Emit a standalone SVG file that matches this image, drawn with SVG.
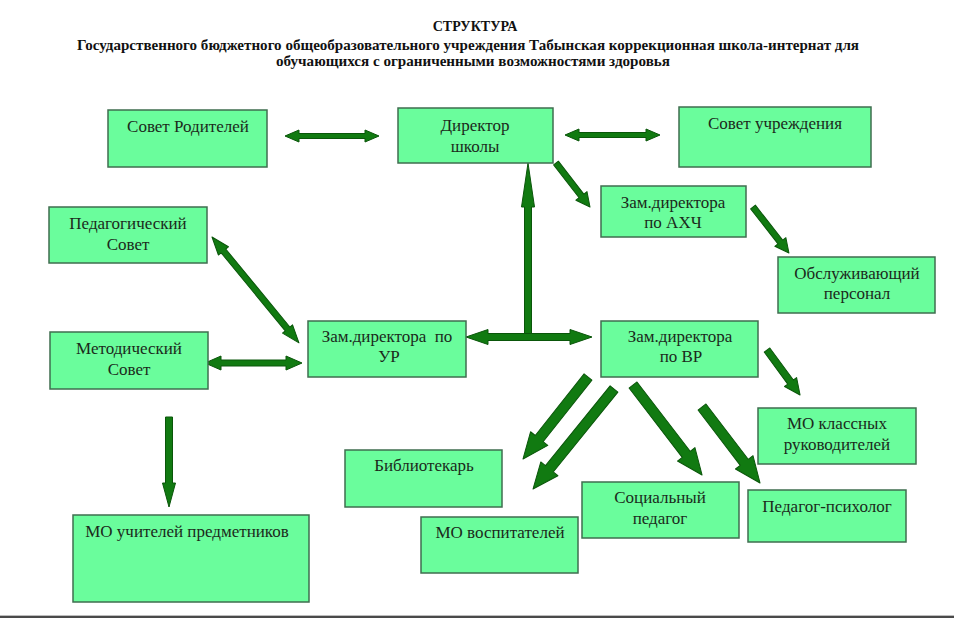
<svg xmlns="http://www.w3.org/2000/svg" width="954" height="618" viewBox="0 0 954 618">
<style>
.box{fill:#6afd9c;stroke:#3f6e4f;stroke-width:1.5}
.t{font-family:"Liberation Serif","Times New Roman",serif;font-size:17px;fill:#1b2a1b;text-anchor:middle}
.h{font-family:"Liberation Serif","Times New Roman",serif;font-size:14px;font-weight:bold;fill:#111;text-anchor:middle}
.ar{fill:#117a11;stroke:#0a560a;stroke-width:1;stroke-linejoin:round}
</style>
<rect width="954" height="618" fill="#ffffff"/>
<rect x="0" y="615" width="954" height="1" fill="#bdbdbd"/>
<rect x="0" y="616" width="954" height="2" fill="#4a4a4a"/>
<g id="title">
<text class="h" x="475" y="31">СТРУКТУРА</text>
<text class="h" x="468" y="50" textLength="782" lengthAdjust="spacingAndGlyphs">Государственного бюджетного общеобразовательного учреждения Табынская коррекционная школа-интернат для</text>
<text class="h" x="473" y="66" textLength="394" lengthAdjust="spacingAndGlyphs">обучающихся с ограниченными возможностями здоровья</text>
</g>
<g id="connectors">
<polygon class="ar" transform="translate(285,136)" points="0,0 14,-6 14,-2.5 80,-2.5 80,-6 94,0 80,6 80,2.5 14,2.5 14,6"/>
<polygon class="ar" transform="translate(565,135)" points="0,0 14,-6 14,-2.5 81,-2.5 81,-6 95,0 81,6 81,2.5 14,2.5 14,6"/>
<polygon class="ar" transform="translate(556,163) rotate(52.3)" points="0,-3 41.6,-3 41.6,-7 55.6,0 41.6,7 41.6,3 0,3"/>
<polygon class="ar" transform="translate(753,207) rotate(52)" points="0,-3 44.4,-3 44.4,-7 58.4,0 44.4,7 44.4,3 0,3"/>
<polygon class="ar" transform="translate(528,338) rotate(-90)" points="0,-3.5 131,-3.5 131,-6.5 175,0 131,6.5 131,3.5 0,3.5"/>
<polygon class="ar" transform="translate(466,337)" points="0,0 22,-7.5 22,-3.5 104,-3.5 104,-7.5 126,0 104,7.5 104,3.5 22,3.5 22,7.5"/>
<polygon class="ar" transform="translate(212,237) rotate(50.6)" points="0,0 18,-6.5 18,-3 119,-3 119,-6.5 137,0 119,6.5 119,3 18,3 18,6.5"/>
<polygon class="ar" transform="translate(205,363)" points="0,0 16,-7 16,-3 81,-3 81,-7 97,0 81,7 81,3 16,3 16,7"/>
<polygon class="ar" transform="translate(169,417) rotate(90)" points="0,-3.5 66,-3.5 66,-6.5 90,0 66,6.5 66,3.5 0,3.5"/>
<polygon class="ar" transform="translate(588,377) rotate(128.4)" points="0,-5 78.6,-5 78.6,-11 104.6,0 78.6,11 78.6,5 0,5"/>
<polygon class="ar" transform="translate(614,389) rotate(129)" points="0,-5 102.7,-5 102.7,-11 128.7,0 102.7,11 102.7,5 0,5"/>
<polygon class="ar" transform="translate(633,385) rotate(52.5)" points="0,-5 87.4,-5 87.4,-11 113.4,0 87.4,11 87.4,5 0,5"/>
<polygon class="ar" transform="translate(702,407) rotate(52.65)" points="0,-5 69.6,-5 69.6,-11 95.6,0 69.6,11 69.6,5 0,5"/>
<polygon class="ar" transform="translate(767,350) rotate(53.7)" points="0,-3.5 39.8,-3.5 39.8,-7.5 55.8,0 39.8,7.5 39.8,3.5 0,3.5"/>
</g>
<g id="sovet-roditeley"><rect class="box" x="108" y="110" width="159" height="57"/><text class="t" x="188" y="132">Совет Родителей</text></g>
<g id="direktor"><rect class="box" x="398" y="108" width="155" height="55"/><text class="t" x="475" y="131">Директор</text><text class="t" x="475" y="152">школы</text></g>
<g id="sovet-uchrezhdeniya"><rect class="box" x="679" y="107" width="192" height="60"/><text class="t" x="775" y="129">Совет учреждения</text></g>
<g id="zam-ahch"><rect class="box" x="601" y="186" width="145" height="51"/><text class="t" x="673" y="208">Зам.директора</text><text class="t" x="673" y="228">по АХЧ</text></g>
<g id="obsluzh"><rect class="box" x="778" y="257" width="157" height="56"/><text class="t" x="857" y="279">Обслуживающий</text><text class="t" x="857" y="299">персонал</text></g>
<g id="ped-sovet"><rect class="box" x="49" y="207" width="158" height="56"/><text class="t" x="128" y="229">Педагогический</text><text class="t" x="128" y="250">Совет</text></g>
<g id="met-sovet"><rect class="box" x="50" y="332" width="158" height="57"/><text class="t" x="129" y="354">Методический</text><text class="t" x="129" y="375">Совет</text></g>
<g id="zam-ur"><rect class="box" x="308" y="321" width="158" height="56"/><text class="t" x="387" y="342" xml:space="preserve" style="white-space:pre">Зам.директора  по</text><text class="t" x="389" y="362">УР</text></g>
<g id="zam-vr"><rect class="box" x="601" y="321" width="157" height="56"/><text class="t" x="680" y="342">Зам.директора</text><text class="t" x="681" y="362">по ВР</text></g>
<g id="mo-klass"><rect class="box" x="758" y="408" width="158" height="56"/><text class="t" x="837" y="429">МО классных</text><text class="t" x="837" y="450">руководителей</text></g>
<g id="bibliotekar"><rect class="box" x="345" y="450" width="157" height="57"/><text class="t" x="424" y="471">Библиотекарь</text></g>
<g id="mo-vospit"><rect class="box" x="421" y="517" width="157" height="56"/><text class="t" x="500" y="538">МО воспитателей</text></g>
<g id="soc-pedagog"><rect class="box" x="582" y="482" width="157" height="56"/><text class="t" x="660" y="503">Социальный</text><text class="t" x="660" y="524">педагог</text></g>
<g id="ped-psiholog"><rect class="box" x="748" y="490" width="158" height="52"/><text class="t" x="827" y="512">Педагог-психолог</text></g>
<g id="mo-uchiteley"><rect class="box" x="73" y="515" width="236" height="87"/><text class="t" x="187" y="537">МО учителей предметников</text></g>
</svg>
